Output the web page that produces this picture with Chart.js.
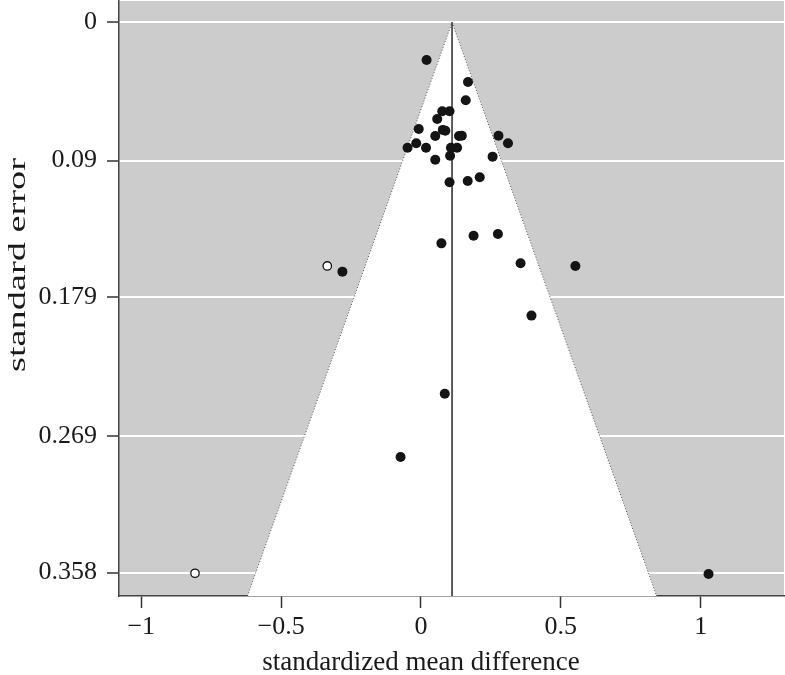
<!DOCTYPE html>
<html>
<head>
<meta charset="utf-8">
<script src="https://cdn.jsdelivr.net/npm/chart.js@4.4.1/dist/chart.umd.min.js"></script>
<style>
body { margin: 0; background: #fff; }
#wrap { width: 785px; height: 675px; }
</style>
</head>
<body>
<div id="wrap"><canvas id="funnel" width="785" height="675"></canvas></div>
<script>
// observed studies: effect size and standard error
const smd = [0.020, 0.168, 0.160, 0.076, 0.102, 0.058, -0.008, 0.078, 0.087, 0.051,
             0.136, 0.146, 0.277, 0.311, -0.017, -0.048, 0.018, 0.107, 0.129, 0.104,
             0.256, 0.051, 0.102, 0.167, 0.210, 0.073, 0.188, 0.275, 0.356, 0.552,
             -0.281, 0.395, 0.085, -0.073, 1.028];
const se = [0.0245, 0.0388, 0.0507, 0.0579, 0.0579, 0.0629, 0.0694, 0.0700, 0.0705, 0.0740,
            0.0740, 0.0738, 0.0738, 0.0787, 0.0787, 0.0816, 0.0816, 0.0816, 0.0816, 0.0868,
            0.0874, 0.0894, 0.1041, 0.1032, 0.1008, 0.1438, 0.1388, 0.1377, 0.1568, 0.1585,
            0.1622, 0.1908, 0.2416, 0.2828, 0.3589];

// studies added by trim and fill (open circles)
const smdFilled = [-0.335, -0.808];
const seFilled = [0.1585, 0.3584];

// pooled estimate and the pseudo confidence limits of the funnel
const pooled = 0.111;
const zCrit = 1.96;

const xTicks = [-1, -0.5, 0, 0.5, 1];
const yTicks = [0, 0.09, 0.179, 0.269, 0.358];
const yTickLabels = ['0', '0.09', '0.179', '0.269', '0.358'];

// axis limits
const xMin = -1.0797, xMax = 1.2978;
const yMin = -0.01385, yMax = 0.3732;

const serif = 'Liberation Serif';
const ink = '#1a1a1a';

const funnel = [
    { x: pooled - zCrit * yMax, y: yMax },
    { x: pooled, y: 0 },
    { x: pooled + zCrit * yMax, y: yMax }
];
const centreLine = [{ x: pooled, y: 0 }, { x: pooled, y: yMax }];

// grey panel behind everything
const greyPanel = {
    id: 'greyPanel',
    beforeDraw(chart) {
        const { ctx, chartArea: a } = chart;
        ctx.save();
        ctx.fillStyle = '#cccccc';
        ctx.fillRect(a.left, a.top, a.right - a.left, a.bottom - a.top);
        ctx.restore();
    }
};

// axis titles drawn by hand: the x one sits left of the panel centre,
// the y one is stretched along its length in the original
const axisTitles = {
    id: 'axisTitles',
    afterDraw(chart) {
        const ctx = chart.ctx;
        ctx.save();
        ctx.fillStyle = ink;
        ctx.textAlign = 'center';
        ctx.textBaseline = 'alphabetic';

        ctx.font = '27px "' + serif + '"';
        ctx.fillText('standardized mean difference', 421, 670);

        const text = 'standard error';
        ctx.font = '26px "' + serif + '"';
        const w = ctx.measureText(text).width;
        ctx.translate(25, 265);
        ctx.rotate(-Math.PI / 2);
        ctx.scale(214 / w, 1);
        ctx.fillText(text, 0, 0);
        ctx.restore();
    }
};

new Chart(document.getElementById('funnel'), {
    type: 'scatter',
    data: {
        datasets: [
            {
                type: 'line',
                data: funnel,
                showLine: true,
                fill: { value: yMax },
                backgroundColor: '#ffffff',
                borderColor: '#555555',
                borderWidth: 1,
                borderDash: [1, 2],
                pointRadius: 0,
                tension: 0,
                order: 3
            },
            {
                type: 'line',
                data: centreLine,
                showLine: true,
                fill: false,
                borderColor: '#2a2a2a',
                borderWidth: 1.5,
                pointRadius: 0,
                order: 2
            },
            {
                data: smd.map((v, i) => ({ x: v, y: se[i] })),
                pointRadius: 5,
                pointBackgroundColor: '#141414',
                pointBorderWidth: 0,
                order: 1
            },
            {
                data: smdFilled.map((v, i) => ({ x: v, y: seFilled[i] })),
                pointRadius: 4.2,
                pointBackgroundColor: '#ffffff',
                pointBorderColor: '#141414',
                pointBorderWidth: 1.3,
                order: 0
            }
        ]
    },
    options: {
        responsive: false,
        animation: false,
        layout: { autoPadding: false, padding: { top: 1, right: 1, left: 0, bottom: 0 } },
        plugins: {
            legend: { display: false },
            tooltip: { enabled: false }
        },
        scales: {
            x: {
                type: 'linear',
                min: xMin,
                max: xMax,
                afterBuildTicks: s => { s.ticks = xTicks.map(v => ({ value: v })); },
                afterFit: s => {
                    s.height = 79;
                    s.paddingLeft = 0;
                    s.paddingRight = 0;
                },
                ticks: {
                    callback: v => String(v).replace('-', '\u2212'),
                    font: { family: serif, size: 26 },
                    color: ink,
                    padding: 4,
                    maxRotation: 0
                },
                grid: { drawOnChartArea: false, tickLength: 12, tickColor: '#333', tickWidth: 1.5 },
                border: { color: '#444', width: 1.5 }
            },
            y: {
                type: 'linear',
                reverse: true,
                min: yMin,
                max: yMax,
                afterBuildTicks: s => { s.ticks = yTicks.map(v => ({ value: v })); },
                afterFit: s => {
                    s.width = 119;
                    s.paddingTop = 0;
                    s.paddingBottom = 0;
                },
                ticks: {
                    callback: (v, i) => yTickLabels[i],
                    font: { family: serif, size: 26 },
                    color: ink,
                    padding: 10
                },
                grid: { color: '#ffffff', lineWidth: 2, tickLength: 12, tickColor: '#333', tickWidth: 1.5 },
                border: { color: '#444', width: 1.5 }
            }
        }
    },
    plugins: [greyPanel, axisTitles]
});
</script>
</body>
</html>
